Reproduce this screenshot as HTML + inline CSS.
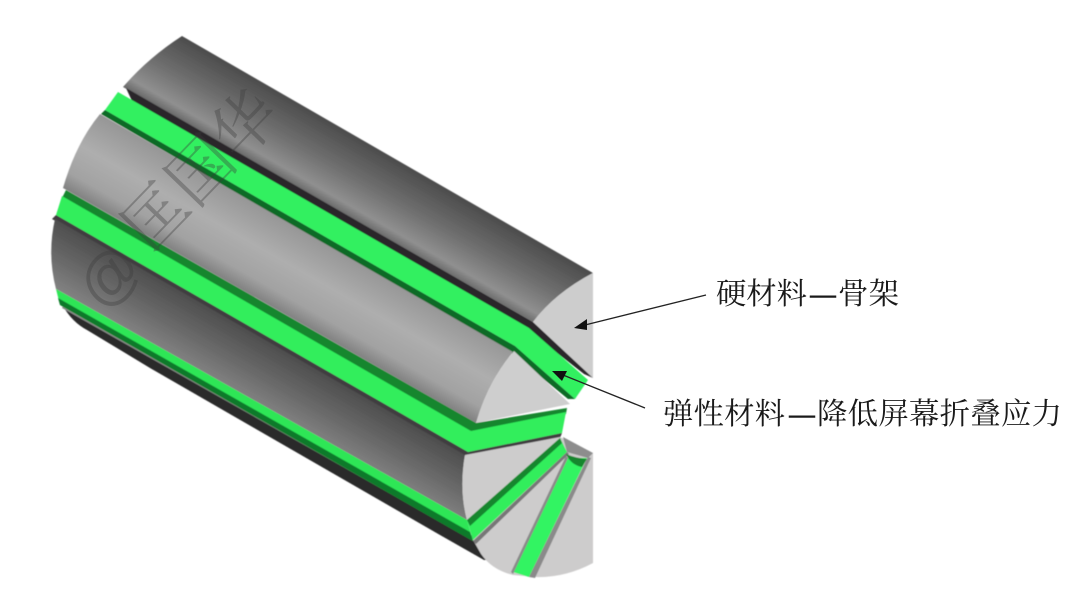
<!DOCTYPE html>
<html lang="zh">
<head>
<meta charset="utf-8">
<style>
html,body{margin:0;padding:0;background:#fff;width:1080px;height:608px;overflow:hidden}
svg{display:block}
.lb{font-family:"Liberation Serif","Noto Serif CJK SC",serif;font-size:30.4px;fill:#1a1a1a;font-weight:400}
.ds{font-family:"Liberation Sans",sans-serif;font-size:26px;fill:#1a1a1a;stroke:#1a1a1a;stroke-width:.5}
.wm{font-family:"Liberation Sans","Noto Serif CJK SC",serif;font-size:64px;fill:#3c3c3c;opacity:.36}
</style>
</head>
<body>
<svg width="1080" height="608" viewBox="0 0 1080 608" xmlns="http://www.w3.org/2000/svg">
<defs>
<filter id="b" x="-5%" y="-5%" width="110%" height="110%"><feGaussianBlur stdDeviation="0.6"/></filter>
<linearGradient id="g1" gradientUnits="userSpaceOnUse" x1="182" y1="36" x2="145" y2="100">
<stop offset="0" stop-color="#4c4c4c"/><stop offset=".5" stop-color="#707070"/><stop offset=".85" stop-color="#909090"/><stop offset="1" stop-color="#666666"/>
</linearGradient>
<linearGradient id="g2" gradientUnits="userSpaceOnUse" x1="100" y1="114" x2="59" y2="186">
<stop offset="0" stop-color="#969696"/><stop offset=".45" stop-color="#aeaeae"/><stop offset=".8" stop-color="#a2a2a2"/><stop offset="1" stop-color="#808080"/>
</linearGradient>
<linearGradient id="g3" gradientUnits="userSpaceOnUse" x1="55" y1="219" x2="25" y2="271">
<stop offset="0" stop-color="#4e4e4e"/><stop offset=".6" stop-color="#6c6c6c"/><stop offset="1" stop-color="#828282"/>
</linearGradient>
</defs>

<g filter="url(#b)">
<!-- top segment -->
<path d="M182 36 L593 273 Q555 293 533 322 L123 87 Q148 58 182 36Z" fill="url(#g1)"/>
<path d="M593 273 L593 378 L533 322 Q555 293 593 273Z" fill="#cdcdcd"/>
<path d="M126 88 L533 322 L593 378 L584 374 L529 331 L132 101Z" fill="#2a272b"/>

<!-- green 1 -->
<path d="M118 92 L529 328 L588 380 L575 399 L515 346 L105 110Z" fill="#33f060"/>
<path d="M105 110 L515 346 L575 399 L568 399 L513 354 L101 114Z" fill="#0f6b26"/>

<!-- segment 2 -->
<path d="M100 114 L513 352 Q488 382 476 423 L63 188 Q76 143 100 114Z" fill="url(#g2)"/>
<path d="M514 351 L570 404 L476 423 Q488 382 514 351Z" fill="#cecece"/>

<!-- green 2 -->
<path d="M66 190 L476 423 L567 408 L566 414 L471 433 L62 198Z" fill="#14862f"/>
<path d="M62 196 L471 431 L566 412 L562 433 L468 452 L56 215Z" fill="#30ee5c"/>
<path d="M56 215 L468 452 L562 433 L560 438 L466 457 L52 219Z" fill="#3f3d3f"/>

<!-- segment 3 -->
<path d="M55 219 L465 455 Q459 490 467 520 L56 289 Q47 254 55 219Z" fill="url(#g3)"/>

<!-- bottom dark -->
<path d="M63 306 Q72 322 87 330 L150 368 L440 535 L484 560 L490 560 L473 536 L65 303Z" fill="#2a2a2a"/>
<path d="M64 304 L472 538 L474 541 L62 308Z" fill="#8a8a8a"/>

<!-- lower cap -->
<path d="M465 455 L560 437 L593 453 L593 563 Q565 578 535 577 L513 575 Q492 570 481 554 L473 540 L467 520 Q459 490 465 455Z" fill="#cdcccc"/>
<path d="M563 437 L593 453 L588 458 L567 452Z" fill="#8d8d8d"/>

<!-- green 3 -->
<path d="M56 289 L467 520 L473 541 L60 305Z" fill="#2de656"/>
<path d="M58 298 L470 532 L473 541 L60 305Z" fill="#0f7a2a"/>

<!-- wedge strip 1 -->
<path d="M467 520 L560 438 L567 452 L473 540Z" fill="#30ee5c"/>
<path d="M467 520 L560 438 L562 443 L470 526Z" fill="#14862f"/>
<path d="M473 541 L567 452 L569 454 L476 544Z" fill="#777"/>
<!-- wedge strip 2 -->
<path d="M568 458 L587 458 L529 577 L513 572Z" fill="#30f462"/>
<path d="M566 454 Q575 458 587 459 L582 467 Q571 465 566 454Z" fill="#14862f"/>
<path d="M588 457 L591 458 L535 578 L529 577Z" fill="#8a8a8a"/>
<path d="M566 456 L568 458 L513 574 L511 572Z" fill="#8a8a8a"/>
</g>

<!-- watermark -->
<g transform="translate(150,255) rotate(-46)">
<text class="wm" x="-74" y="6" style="font-size:60px">@</text>
<text class="wm" x="0" y="0">匡国华</text>
</g>

<!-- arrows -->
<line x1="706" y1="295" x2="585" y2="325" stroke="#222" stroke-width="1.3"/>
<path d="M574 328 L587 319 L587 330Z" fill="#111"/>
<line x1="645" y1="408" x2="563" y2="375" stroke="#222" stroke-width="1.3"/>
<path d="M552 371 L567 371 L562 381Z" fill="#111"/>

<!-- labels -->
<text class="lb" x="716" y="304" textLength="91" lengthAdjust="spacing">硬材料</text>
<text class="ds" x="810" y="303">—</text>
<text class="lb" x="838" y="304" textLength="61" lengthAdjust="spacing">骨架</text>
<text class="lb" x="663" y="424" textLength="122" lengthAdjust="spacing">弹性材料</text>
<text class="ds" x="789" y="423">—</text>
<text class="lb" x="817" y="424" textLength="245" lengthAdjust="spacing">降低屏幕折叠应力</text>
</svg>
</body>
</html>
